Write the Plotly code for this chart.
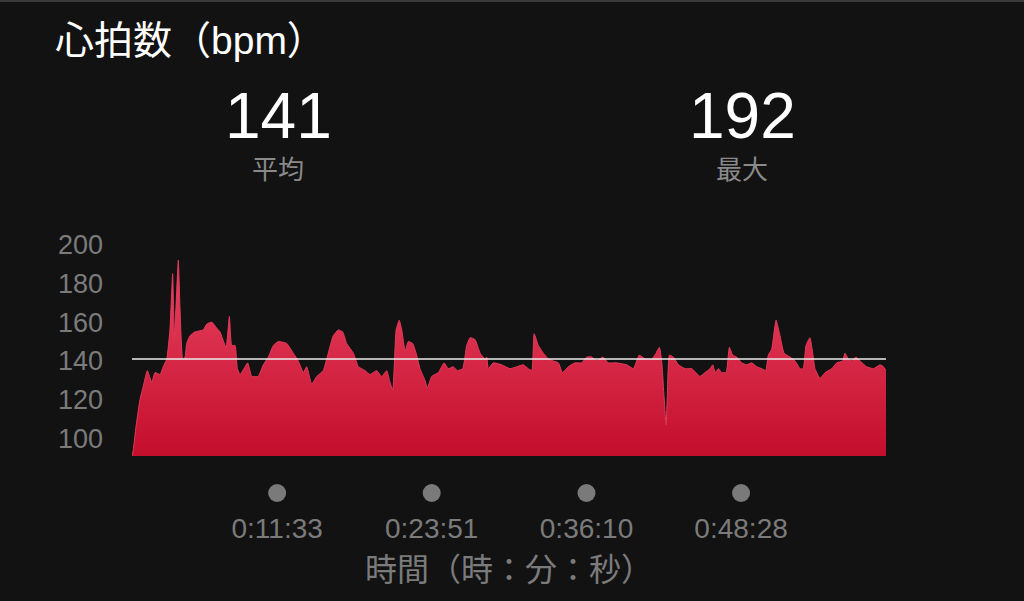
import plotly.graph_objects as go

# ---- data ----
time_sec = [0, 6, 19, 38, 54, 73, 94, 110, 134, 149, 166, 181, 194, 202, 210, 221, 229, 242, 253, 261,
            277, 301, 340, 357, 381, 404, 420, 449, 465, 476, 492, 503, 516, 540, 552, 572, 603, 627, 651, 675,
            699, 739, 770, 794, 818, 834, 858, 882, 913, 937, 961, 985, 1006, 1025, 1057, 1081, 1113, 1136, 1168, 1192,
            1216, 1229, 1245, 1261, 1276, 1288, 1304, 1319, 1340, 1359, 1375, 1399, 1410, 1431, 1463, 1490, 1510, 1534, 1553, 1579,
            1598, 1614, 1638, 1662, 1686, 1694, 1701, 1725, 1765, 1805, 1837, 1868, 1892, 1909, 1920, 1940, 1964, 1988, 2012, 2036,
            2055, 2083, 2115, 2147, 2171, 2195, 2219, 2248, 2274, 2314, 2362, 2394, 2422, 2450, 2482, 2497, 2518, 2529, 2540, 2550,
            2556, 2566, 2585, 2609, 2641, 2673, 2712, 2736, 2760, 2773, 2784, 2800, 2816, 2837, 2852, 2868, 2887, 2911, 2935, 2959,
            2983, 3007, 3026, 3038, 3054, 3075, 3094, 3113, 3142, 3166, 3190, 3205, 3218, 3237, 3250, 3261, 3285, 3309, 3341, 3365,
            3393, 3404, 3420, 3436, 3457, 3476, 3508, 3540, 3572, 3588, 3600]
heart_rate = [91, 94, 106, 120, 127, 135, 129, 134, 133, 137, 141, 156, 185, 153, 168, 192, 168, 141, 142, 149,
              153, 155, 156, 159, 160, 157, 155, 147, 163, 148, 148, 136, 133, 137, 139, 132, 132, 138, 142, 148,
              150, 149, 144, 140, 134, 137, 128, 132, 135, 144, 153, 156, 155, 149, 144, 137, 135, 133, 135, 132,
              135, 130, 125, 156, 161, 156, 145, 150, 149, 143, 136, 130, 126, 132, 134, 139, 136, 137, 135, 136,
              148, 152, 151, 144, 141, 142, 136, 139, 138, 136, 137, 138, 136, 135, 154, 148, 144, 141, 140, 139,
              134, 137, 139, 139, 142, 142, 140, 142, 139, 139, 138, 136, 143, 141, 141, 143, 147, 140, 122, 107,
              122, 143, 142, 138, 136, 136, 132, 134, 136, 138, 134, 136, 134, 134, 147, 143, 142, 139, 138, 139,
              137, 136, 135, 143, 146, 161, 153, 144, 142, 140, 136, 136, 148, 152, 144, 136, 131, 134, 136, 139,
              140, 144, 141, 140, 142, 140, 137, 136, 138, 137, 135]

avg_hr = 141
max_hr = 192
y_ticks = [100, 120, 140, 160, 180, 200]
x_tick_sec = [693, 1431, 2170, 2908]
x_tick_labels = ["0:11:33", "0:23:51", "0:36:10", "0:48:28"]

title_text = "心拍数（bpm）"
avg_label = "平均"
max_label = "最大"
x_title = "時間（時：分：秒）"

FONT = "Liberation Sans, Noto Sans CJK JP, sans-serif"
BG = "#121212"
GREY = "#7b7b7b"

# ---- layout geometry (pixels) ----
W, H = 1024, 601
pl, pr, pt, pb = 132, 138, 229, 0
pw, ph = W - pl - pr, H - pt - pb
chart_bottom_px = 456
split = (H - chart_bottom_px) / ph  # paper fraction for lower strip

fig = go.Figure()

fig.add_trace(go.Scatter(
    x=time_sec, y=heart_rate, mode="lines",
    line=dict(color="#e23a5a", width=1, shape="spline", smoothing=0.4),
    fill="tozeroy",
    fillgradient=dict(type="vertical", start=91, stop=192,
                      colorscale=[[0, "#c30e2c"], [1, "#ea4463"]]),
    hoverinfo="skip", showlegend=False,
))

# average line
fig.add_trace(go.Scatter(
    x=[0, time_sec[-1]], y=[avg_hr, avg_hr], mode="lines",
    line=dict(color="#ececec", width=1.6),
    hoverinfo="skip", showlegend=False,
))

# tick dots (in lower strip axis, units = pixels above page bottom)
fig.add_trace(go.Scatter(
    x=x_tick_sec, y=[108] * len(x_tick_sec), mode="markers", yaxis="y2",
    marker=dict(color="#7a7a7a", size=18, line=dict(width=0)),
    cliponaxis=False, hoverinfo="skip", showlegend=False,
))

fig.update_layout(
    width=W, height=H,
    paper_bgcolor=BG, plot_bgcolor=BG,
    margin=dict(l=pl, r=pr, t=pt, b=pb),
    font=dict(family=FONT, color=GREY),
    xaxis=dict(range=[0, 3600], showgrid=False, zeroline=False, showline=False,
               anchor="y", automargin=False,
               tickvals=x_tick_sec, ticktext=x_tick_labels, ticks="",
               tickfont=dict(size=28, color=GREY), ticklabelstandoff=53,
               title=dict(text=x_title, font=dict(size=32, color=GREY), standoff=15)),
    yaxis=dict(range=[91, 208], domain=[split, 1], showgrid=False, zeroline=False, showline=False,
               automargin=False,
               tickvals=y_ticks, ticks="", tickfont=dict(size=27, color=GREY),
               ticklabelstandoff=28),
    yaxis2=dict(range=[0, H - chart_bottom_px], domain=[0, split], visible=False,
                showgrid=False, zeroline=False, automargin=False),
)

def to_paper(px, py):
    return (px - pl) / pw, (H - pb - py) / ph

ax, ay = to_paper(53, 40)
fig.add_annotation(x=ax, y=ay, xref="paper", yref="paper", text=title_text, showarrow=False,
                   xanchor="left", yanchor="middle", font=dict(size=39, color="#ffffff", family=FONT))

for val, lab, cx in [(avg_hr, avg_label, 278), (max_hr, max_label, 742)]:
    ax, ay = to_paper(cx, 116)
    fig.add_annotation(x=ax, y=ay, xref="paper", yref="paper", text=str(val), showarrow=False,
                       xanchor="center", yanchor="middle",
                       font=dict(size=64, color="#ffffff", family=FONT))
    ax, ay = to_paper(cx, 170)
    fig.add_annotation(x=ax, y=ay, xref="paper", yref="paper", text=lab, showarrow=False,
                       xanchor="center", yanchor="middle",
                       font=dict(size=26, color="#8a8a8a", family=FONT))

# thin grey border at very top of the screenshot
x0p, _ = to_paper(0, 0)
x1p, _ = to_paper(W, 0)
_, y0p = to_paper(0, 0)
_, y1p = to_paper(0, 2)
fig.add_shape(type="rect", xref="paper", yref="paper", x0=x0p, x1=x1p, y0=y1p, y1=y0p,
              line=dict(width=0), fillcolor="#3a3a3a", layer="above")

fig.write_html("out.html", config={"displayModeBar": False},
               post_script="document.body.style.margin='0';")
